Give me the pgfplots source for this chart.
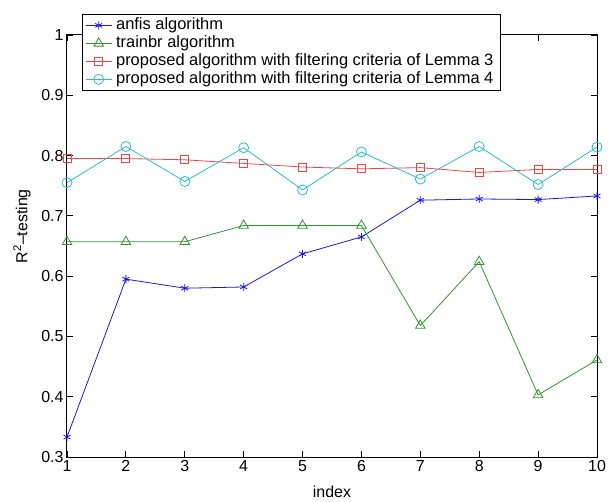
\documentclass[border=0pt]{standalone}
\usepackage{fontspec}
\setmainfont{Liberation Sans}
\usepackage{pgfplots}
\pgfplotsset{compat=1.18}
\usetikzlibrary{calc}
\definecolor{mblue}{RGB}{25,25,235}
\definecolor{mgreen}{RGB}{45,150,45}
\definecolor{mred}{RGB}{235,70,70}
\definecolor{mcyan}{RGB}{40,190,200}

\begin{document}
\begin{tikzpicture}
\begin{axis}[
    scale only axis,
    width=530bp, height=422bp,
    xmin=1, xmax=10, ymin=0.3, ymax=1,
    xtick={1,2,3,4,5,6,7,8,9,10},
    ytick={0.3,0.4,0.5,0.6,0.7,0.8,0.9,1},
    tick align=inside,
    major tick length=6bp,
    axis line style={line width=1bp},
    tick style={line width=0.8bp, black},
    /pgf/number format/assume math mode=true,
    yticklabel style={/pgf/number format/fixed, /pgf/number format/precision=1},
    ticklabel style={font=\fontsize{16}{18}\selectfont},
    xlabel={index},
    ylabel={R\textsuperscript{2}–testing},
    label style={font=\fontsize{16}{18}\selectfont},
    xlabel style={at={(axis description cs:0.5,-0.083)}, anchor=center},
    ylabel style={at={(axis description cs:-0.085,0.547)}, anchor=center},
    clip=false,
    legend cell align=left,
    legend style={at={(axis description cs:0.028,1.05)}, anchor=north west,
        draw=black, line width=1bp, fill=white,
        font=\fontsize{16.5}{18}\selectfont,
        nodes={text height=11.5bp, text depth=3.5bp, inner ysep=1.5bp, inner xsep=4bp}},
    legend image code/.code={\draw[mark repeat=2,mark phase=2,#1] plot coordinates {(0bp,0bp)(13bp,0bp)(26bp,0bp)};},
    every axis plot/.append style={line width=0.8bp},
]
\coordinate (bl) at (rel axis cs:0,0);
\coordinate (tr) at (rel axis cs:1,1);
\addplot[color=mblue, mark=asterisk, mark size=4bp] coordinates {
    (1,0.333) (2,0.595) (3,0.580) (4,0.582) (5,0.637)
    (6,0.665) (7,0.726) (8,0.728) (9,0.727) (10,0.733)
};
\addplot[color=mgreen, mark=triangle, mark size=5.5bp, mark options={solid}] coordinates {
    (1,0.657) (2,0.657) (3,0.657) (4,0.684) (5,0.684)
    (6,0.684) (7,0.518) (8,0.624) (9,0.403) (10,0.461)
};
\addplot[color=mred, mark=square, mark size=4bp] coordinates {
    (1,0.795) (2,0.795) (3,0.793) (4,0.787) (5,0.781)
    (6,0.778) (7,0.780) (8,0.772) (9,0.777) (10,0.777)
};
\addplot[color=mcyan, mark=o, mark size=5bp] coordinates {
    (1,0.755) (2,0.815) (3,0.757) (4,0.813) (5,0.743)
    (6,0.806) (7,0.761) (8,0.815) (9,0.752) (10,0.814)
};
\legend{anfis algorithm, trainbr algorithm, proposed algorithm with filtering criteria of Lemma 3, proposed algorithm with filtering criteria of Lemma 4}
\end{axis}
\pgfresetboundingbox
\useasboundingbox ($(bl)+(-67bp,-45bp)$) rectangle ($(tr)+(11bp,35bp)$);
\end{tikzpicture}
\end{document}
